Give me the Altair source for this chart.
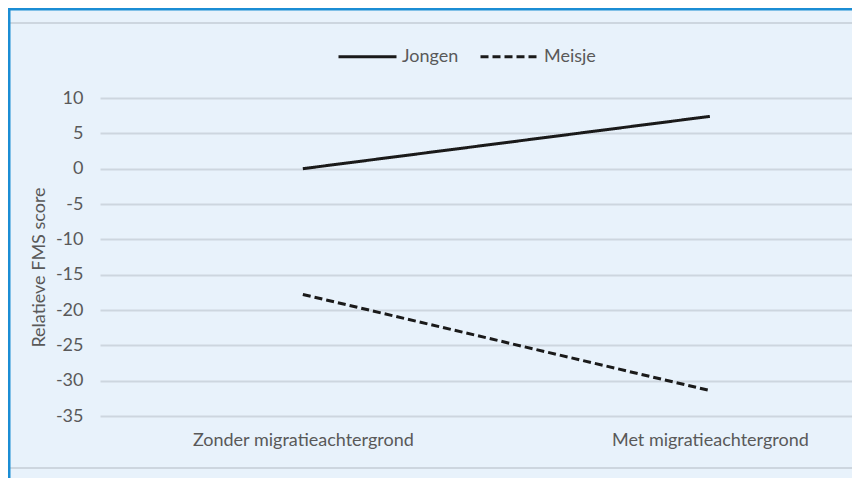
import altair as alt
import pandas as pd

categories = ["Zonder migratieachtergrond", "Met migratieachtergrond"]
series_names = ["Jongen", "Meisje"]
jongen = [0.0, 7.4]
meisje = [-17.8, -31.4]
y_ticks = [10, 5, 0, -5, -10, -15, -20, -25, -30, -35]

rows = []
for name, vals in zip(series_names, [jongen, meisje]):
    for c, v in zip(categories, vals):
        rows.append({"groep": c, "geslacht": name, "score": v})
df = pd.DataFrame(rows)

FONT = "Lato"
TXT = "#595959"
BLUE = "#1B8DD4"
GRID = "#CDD6DF"
FS = 18
W, H = 752, 318

lines = alt.Chart(df).mark_line(strokeWidth=3, color="#1a1a1a").encode(
    x=alt.X("groep:N", sort=categories,
            scale=alt.Scale(type="point", padding=0.4238, align=0.588),
            axis=alt.Axis(title=None, labelAngle=0, domain=False, ticks=False,
                          grid=False, labelPadding=15, labelFontSize=FS,
                          labelLimit=0, labelColor=TXT, labelFont=FONT)),
    y=alt.Y("score:Q", scale=alt.Scale(domain=[-35, 10], nice=False, zero=False),
            axis=alt.Axis(values=y_ticks, domain=False, ticks=False, grid=True,
                          gridColor=GRID, gridWidth=2, labelPadding=17,
                          labelExpr="toString(datum.value)",
                          labelFontSize=FS, labelColor=TXT, labelFont=FONT,
                          title="Relatieve FMS score", titleFont=FONT,
                          titleFontSize=FS, titleFontWeight="normal",
                          titleColor=TXT, titleX=-61, titleY=H / 2 + 10,
                          titleAngle=270, titleAlign="center",
                          titleBaseline="middle")),
    strokeDash=alt.StrokeDash("geslacht:N", sort=series_names,
        scale=alt.Scale(domain=series_names, range=[[1, 0], [8, 4]]),
        legend=alt.Legend(title=None, orient="none", direction="horizontal",
                          legendX=237, legendY=-72, symbolType="stroke",
                          symbolSize=3364, symbolStrokeWidth=3,
                          symbolStrokeColor="#1a1a1a", labelFontSize=FS,
                          labelFont=FONT, labelColor=TXT, labelOffset=4,
                          columnPadding=15, padding=0)),
)

one = pd.DataFrame({"d": [0]})
top_border = alt.Chart(one).mark_rule(color=BLUE, strokeWidth=3).encode(
    x=alt.value(-92), x2=alt.value(W), y=alt.value(-89))
left_border = alt.Chart(one).mark_rule(color=BLUE, strokeWidth=3).encode(
    x=alt.value(-91), y=alt.value(-90), y2=alt.value(H + 62))
top_sep = alt.Chart(one).mark_rule(color=GRID, strokeWidth=2).encode(
    x=alt.value(-90), x2=alt.value(W), y=alt.value(-75))
bottom_sep = alt.Chart(one).mark_rule(color=GRID, strokeWidth=2).encode(
    x=alt.value(-90), x2=alt.value(W), y=alt.value(H + 52))

chart = alt.layer(top_sep, bottom_sep, lines, top_border, left_border).properties(
    width=W, height=H, background="#E8F2FB",
    autosize=alt.AutoSizeParams(type="none"),
    padding={"left": 92, "top": 90, "right": 0, "bottom": 62},
).configure_view(stroke=None)

chart.save("out.html", embed_options={"renderer": "svg", "actions": False})
